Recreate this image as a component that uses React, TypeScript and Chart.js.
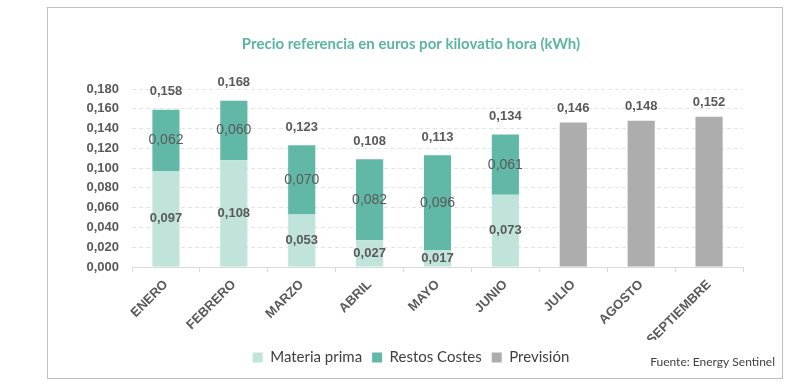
import React, { useEffect, useRef } from "react";
import { Chart, registerables } from "chart.js";

Chart.register(...registerables);

const categories = ["ENERO", "FEBRERO", "MARZO", "ABRIL", "MAYO", "JUNIO", "JULIO", "AGOSTO", "SEPTIEMBRE"];
const materiaPrima = [0.097, 0.108, 0.053, 0.027, 0.017, 0.073, null, null, null];
const restosCostes = [0.062, 0.060, 0.070, 0.082, 0.096, 0.061, null, null, null];
const prevision = [null, null, null, null, null, null, 0.146, 0.148, 0.152];
const totales = [0.158, 0.168, 0.123, 0.108, 0.113, 0.134, null, null, null];

const TITLE = "Precio referencia en euros por kilovatio hora (kWh)";
const SOURCE = "Fuente: Energy Sentinel";

const fmt = (v: number) => v.toFixed(3).replace(".", ",");

const LABEL_COLOR = "#595959";

const labelsPlugin = {
  id: "customLabels",
  afterDatasetsDraw(chart: any) {
    const ctx = chart.ctx;
    ctx.save();
    ctx.textAlign = "center";
    ctx.textBaseline = "middle";
    ctx.fillStyle = LABEL_COLOR;
    const m0 = chart.getDatasetMeta(0);
    const m1 = chart.getDatasetMeta(1);
    const m2 = chart.getDatasetMeta(2);
    m0.data.forEach((el: any, i: number) => {
      const v = materiaPrima[i];
      if (v == null) return;
      ctx.font = "bold 13px 'Liberation Sans', Arial, sans-serif";
      ctx.fillText(fmt(v), el.x, (el.y + el.base) / 2);
    });
    m1.data.forEach((el: any, i: number) => {
      const v = restosCostes[i];
      if (v == null) return;
      ctx.font = "14px 'Liberation Sans', Arial, sans-serif";
      ctx.fillText(fmt(v), el.x, (el.y + el.base) / 2);
      const t = totales[i];
      if (t != null) {
        ctx.font = "bold 13px 'Liberation Sans', Arial, sans-serif";
        ctx.fillText(fmt(t), el.x, el.y - 18);
      }
    });
    m2.data.forEach((el: any, i: number) => {
      const v = prevision[i];
      if (v == null) return;
      ctx.font = "bold 13px 'Liberation Sans', Arial, sans-serif";
      ctx.fillText(fmt(v), el.x, el.y - 14);
    });
    ctx.restore();
  },
  afterDraw(chart: any) {
    const ctx = chart.ctx;
    ctx.save();
    ctx.strokeStyle = "#bfbfbf";
    ctx.lineWidth = 1;
    ctx.strokeRect(47.5, 7.5, 735, 371);
    ctx.fillStyle = "#404040";
    ctx.font = "12px Lato, sans-serif";
    ctx.textAlign = "right";
    ctx.textBaseline = "middle";
    ctx.fillText(SOURCE, 775, 362);
    ctx.restore();
  },
};

export default function App() {
  const ref = useRef<HTMLCanvasElement | null>(null);
  useEffect(() => {
    if (!ref.current) return;
    const chart = new Chart(ref.current, {
      type: "bar",
      data: {
        labels: categories,
        datasets: [
          { label: "Materia prima", data: materiaPrima, backgroundColor: "#c0e4dc", barPercentage: 0.4, categoryPercentage: 1 },
          { label: "Restos Costes", data: restosCostes, backgroundColor: "#62b8a7", barPercentage: 0.4, categoryPercentage: 1 },
          { label: "Previsión", data: prevision, backgroundColor: "#adadad", barPercentage: 0.4, categoryPercentage: 1 },
        ],
      },
      options: {
        animation: false,
        responsive: false,
        maintainAspectRatio: false,
        layout: { padding: { left: 79, right: 43, top: 35, bottom: 12 } },
        plugins: {
          title: {
            display: true,
            text: TITLE,
            color: "#5cb5a3",
            font: { family: "Lato, sans-serif", size: 15, weight: "bold" },
            padding: { top: 0, bottom: 36 },
          },
          legend: {
            position: "bottom",
            labels: {
              boxWidth: 10,
              boxHeight: 10,
              color: "#404040",
              font: { family: "Lato, sans-serif", size: 15 },
              padding: 10,
            },
          },
          tooltip: { enabled: false },
        },
        scales: {
          x: {
            stacked: true,
            afterFit: (s: any) => { s.height = 73; },
            grid: { drawOnChartArea: false, drawTicks: true, tickLength: 5, color: "#d9d9d9" },
            border: { display: true, color: "#d9d9d9" },
            ticks: {
              color: LABEL_COLOR,
              font: { family: "'Liberation Sans', Arial, sans-serif", size: 13, weight: "bold" },
              maxRotation: 45,
              minRotation: 45,
              padding: 5,
            },
          },
          y: {
            stacked: true,
            min: 0,
            max: 0.18,
            afterFit: (s: any) => { s.width = 53; },
            grid: { drawTicks: false, color: "#dce8e5" },
            border: { display: false, dash: [4, 3] },
            ticks: {
              stepSize: 0.02,
              padding: 13,
              color: LABEL_COLOR,
              font: { family: "'Liberation Sans', Arial, sans-serif", size: 13, weight: "bold" },
              callback: (v: any) => fmt(Number(v)),
            },
          },
        },
      },
      plugins: [labelsPlugin],
    } as any);
    return () => chart.destroy();
  }, []);
  return (
    <div style={{ position: "absolute", left: 0, top: 0, width: 786, height: 387, background: "#fff" }}>
      <canvas ref={ref} width={786} height={387} style={{ width: 786, height: 387 }} />
    </div>
  );
}
